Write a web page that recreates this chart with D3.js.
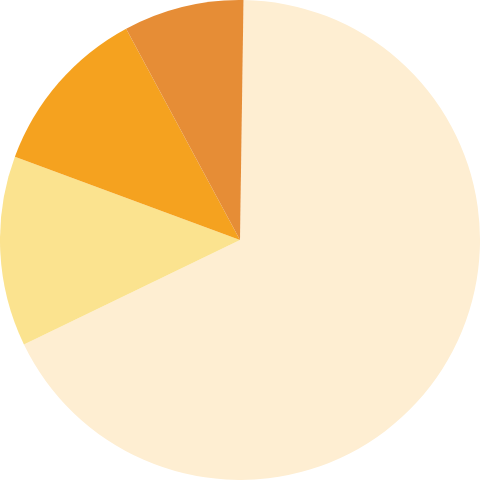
<!DOCTYPE html>
<html><head><meta charset="utf-8">
<script src="https://cdn.jsdelivr.net/npm/d3@7"></script>
<style>html,body{margin:0;padding:0;background:#fff;}svg{display:block;}</style>
</head><body>
<svg id="chart" width="480" height="480"></svg>
<script>
const categories = ["A", "B", "C", "D"];
const values = [67.6, 12.8, 11.5, 8.1];
const colors = ["#FEEED2", "#FBE38F", "#F5A21F", "#E68D36"];

const width = 480, height = 480, radius = 240;
const startOffset = 0.0146;
const svg = d3.select("#chart");
const g = svg.append("g").attr("transform", `translate(${width/2},${height/2})`);
const pie = d3.pie().sort(null).startAngle(startOffset).endAngle(startOffset + 2*Math.PI);
const arc = d3.arc().innerRadius(0).outerRadius(radius);
const color = d3.scaleOrdinal().domain(categories).range(colors);
g.selectAll("path").data(pie(values)).enter().append("path")
  .attr("d", arc)
  .attr("fill", (d,i) => color(categories[i]));
</script>
</body></html>
